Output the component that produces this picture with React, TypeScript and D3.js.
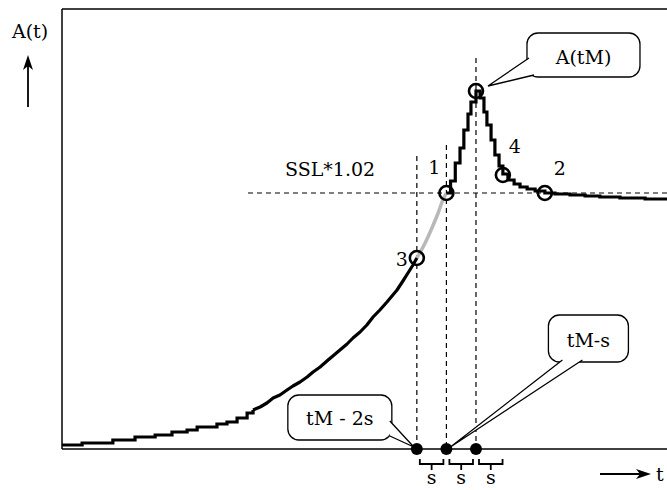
import React from "react";
import * as d3 from "d3";

// Time axis in arbitrary units: peak at tM, spacing s between sampling instants
const tM = 140;
const s = 10;
const tMax = 205;
const aMax = 110;
const ssl102 = 64; // SSL*1.02 level
const stepLimitT = 64.6; // below this the quantisation steps are drawn explicitly

// Rising part of A(t) up to point 3
const riseT = [0, 6.8, 17.2, 24.7, 31.5, 37.2, 42.3, 45.7, 52.4, 55.8, 59.2, 62.6, 64.6, 67.0, 69.3, 71.4, 73.7, 76.1, 78.1, 80.5, 82.9, 84.9, 87.3, 89.6, 91.6, 94.0, 96.4, 98.4, 100.8, 103.1, 105.2, 107.5, 109.9, 111.6, 113.3, 115.3, 117.0, 118.7, 120];
const riseA = [1.0, 1.5, 2.25, 3.0, 3.5, 4.25, 4.75, 5.5, 6.25, 6.75, 7.75, 9.0, 9.75, 10.5, 11.5, 12.75, 13.5, 14.75, 15.75, 16.75, 18, 19.25, 20.5, 22, 23.25, 24.75, 26.25, 27.75, 29.25, 31, 33, 34.75, 36.75, 38.25, 39.75, 42, 44, 46, 47.75];

// Segment between point 3 and point 1 (highlighted)
const gapT = [120, 122.8, 125.1, 127.2, 128.8, 130];
const gapA = [47.75, 51.5, 55.25, 59, 62.25, 64];

// From point 1 through the peak and down to the plateau
const crestT = [130, 131.4, 133, 134.6, 135.9, 137.3, 138.3, 140, 141.4, 142.7, 143.7, 145.1, 146.4, 147.8, 149.1, 150.8, 152.9, 154.9, 157.3, 160, 163.3, 166.7, 171.8, 176.9, 181.9, 188.7, 197.2, 205];
const crestA = [64, 67, 71.5, 75.25, 79.75, 83.75, 86.75, 89.5, 87.75, 84.25, 81, 77.25, 73.5, 70.75, 68.75, 67.25, 66.25, 65.5, 65, 64.5, 64, 63.75, 63.5, 63.25, 63, 62.75, 62.5, 62.5];

// Marked points
const markT = [tM - 2 * s, tM - s, tM, 149.1, 163.3];
const markA = [47.75, ssl102, 89.5, 68.5, 64];
const markLabels = ["3", "1", "", "4", "2"];

// Sampling instants on the time axis
const sampleT = [tM - 2 * s, tM - s, tM];
// Upper ends of the vertical guides
const guideTopA = [73.25, 76, 97.75];

const txt: React.CSSProperties = { fontFamily: "'DejaVu Serif', 'Liberation Serif', serif", fontSize: "19px" };

type Pt = [number, number];

function Callout({ box, tail, text, textY }: { box: [number, number, number, number]; tail: [Pt, Pt, Pt]; text: string; textY: number }) {
  const [bx, by, bw, bh] = box;
  const [p0, tip, p1] = tail;
  return (
    <g>
      <rect x={bx} y={by} width={bw} height={bh} rx={11} ry={11} fill="#fff" stroke="#000" strokeWidth={1.3} />
      <path d={`M${p0[0]},${p0[1]} L${tip[0]},${tip[1]} L${p1[0]},${p1[1]} Z`} fill="#fff" stroke="none" />
      <path d={`M${p0[0]},${p0[1]} L${tip[0]},${tip[1]} L${p1[0]},${p1[1]}`} fill="none" stroke="#000" strokeWidth={1.3} />
      <text x={bx + bw / 2} y={textY} textAnchor="middle" style={txt}>{text}</text>
    </g>
  );
}

export default function App() {
  const W = 667;
  const H = 490;
  const x = d3.scaleLinear().domain([0, tMax]).range([62, 62 + tMax * 2.957]);
  const y = d3.scaleLinear().domain([0, aMax]).range([449, 9]);

  const step = d3.line<[number, number]>().x((d) => x(d[0])).y((d) => y(d[1])).curve(d3.curveStepAfter);
  const straight = d3.line<[number, number]>().x((d) => x(d[0])).y((d) => y(d[1]));
  const smooth = d3.line<[number, number]>().x((d) => x(d[0])).y((d) => y(d[1])).curve(d3.curveMonotoneX);

  const rise = riseT.map((t, i) => [t, riseA[i]] as [number, number]);
  const riseLow = rise.filter((d) => d[0] <= stepLimitT);
  const riseHigh = rise.filter((d) => d[0] >= stepLimitT);
  const gap = gapT.map((t, i) => [t, gapA[i]] as [number, number]);
  const crest = crestT.map((t, i) => [t, crestA[i]] as [number, number]);

  const x0 = x(0);
  const yTop = y(aMax);
  const yBase = y(0);

  // brace under each interval of length s
  const brace = (t0: number) => {
    const a = x(t0) + 3;
    const b = x(t0 + s) - 3;
    const m = (a + b) / 2;
    const top = yBase + 10;
    const mid = yBase + 15;
    const bot = yBase + 21;
    return `M${a},${top} L${a},${mid} L${b},${mid} L${b},${top} M${m},${mid} L${m},${bot}`;
  };

  const peakX = x(tM);
  const peakY = y(89.5);
  const p1x = x(tM - s);
  const p3x = x(tM - 2 * s);

  return (
    <svg width={W} height={H} style={{ position: "absolute", left: 0, top: 0, background: "#fff" }}>
      {/* frame */}
      <line x1={x0} y1={yTop} x2={W} y2={yTop} stroke="#000" strokeWidth={1.5} />
      <line x1={x0} y1={yTop} x2={x0} y2={yBase} stroke="#000" strokeWidth={1.5} />
      <line x1={x0} y1={yBase} x2={W} y2={yBase} stroke="#000" strokeWidth={1.5} />

      {/* axis captions */}
      <text x={30} y={38} textAnchor="middle" style={txt}>A(t)</text>
      <line x1={28} y1={107} x2={28} y2={66} stroke="#000" strokeWidth={1.8} />
      <path d="M28,55 L23,70 L28,66 L33,70 Z" fill="#000" />
      <line x1={600} y1={474} x2={640} y2={474} stroke="#000" strokeWidth={1.8} />
      <path d="M651,474 L636,469 L640,474 L636,479 Z" fill="#000" />
      <text x={656} y={481} style={txt}>t</text>

      {/* guides */}
      <line x1={x(62.9)} y1={y(ssl102)} x2={W} y2={y(ssl102)} stroke="#000" strokeWidth={1.2} strokeDasharray="5,4" />
      {sampleT.map((t, i) => (
        <line key={i} x1={x(t)} y1={y(guideTopA[i])} x2={x(t)} y2={yBase} stroke="#000" strokeWidth={1.2} strokeDasharray="5,4" />
      ))}
      <text x={285} y={176} style={txt}>SSL*1.02</text>

      {/* curve */}
      <path d={smooth(gap) ?? ""} fill="none" stroke="#b8b8b8" strokeWidth={3.5} />
      <path d={step(riseLow) ?? ""} fill="none" stroke="#000" strokeWidth={3.2} />
      <path d={straight(riseHigh) ?? ""} fill="none" stroke="#000" strokeWidth={3.2} strokeLinejoin="round" />
      <path d={step(crest) ?? ""} fill="none" stroke="#000" strokeWidth={3.2} />

      {/* marked points */}
      {markT.map((t, i) => (
        <circle key={i} cx={x(t)} cy={y(markA[i])} r={7} fill="none" stroke="#000" strokeWidth={2.6} />
      ))}
      <text x={x(markT[0]) - 9} y={y(markA[0]) + 8} textAnchor="end" style={txt}>{markLabels[0]}</text>
      <text x={x(markT[1]) - 12} y={y(markA[1]) - 19} textAnchor="middle" style={txt}>{markLabels[1]}</text>
      <text x={x(markT[3]) + 12} y={y(markA[3]) - 22} textAnchor="middle" style={txt}>{markLabels[3]}</text>
      <text x={x(markT[4]) + 15} y={y(markA[4]) - 18} textAnchor="middle" style={txt}>{markLabels[4]}</text>

      {/* sampling instants */}
      {sampleT.map((t, i) => (
        <circle key={i} cx={x(t)} cy={yBase} r={6} fill="#000" />
      ))}
      {sampleT.map((t, i) => (
        <g key={i}>
          <path d={brace(t)} fill="none" stroke="#000" strokeWidth={1.8} />
          <text x={x(t + s / 2)} y={yBase + 35} textAnchor="middle" style={txt}>s</text>
        </g>
      ))}

      {/* callouts */}
      <Callout
        box={[peakX + 51, 33, 113, 44]}
        tail={[[peakX + 53, 58], [peakX + 12, peakY - 5], [peakX + 58, 75]]}
        text="A(tM)"
        textY={64}
      />
      <Callout
        box={[p1x + 102, 315, 80, 47]}
        tail={[[p1x + 116, 360], [p1x + 4, yBase - 2], [p1x + 136, 360]]}
        text="tM-s"
        textY={347}
      />
      <Callout
        box={[p3x - 129, 395, 104, 45]}
        tail={[[p3x - 27, 421], [p3x - 3, yBase - 2], [p3x - 27, 436]]}
        text="tM - 2s"
        textY={425}
      />
    </svg>
  );
}
